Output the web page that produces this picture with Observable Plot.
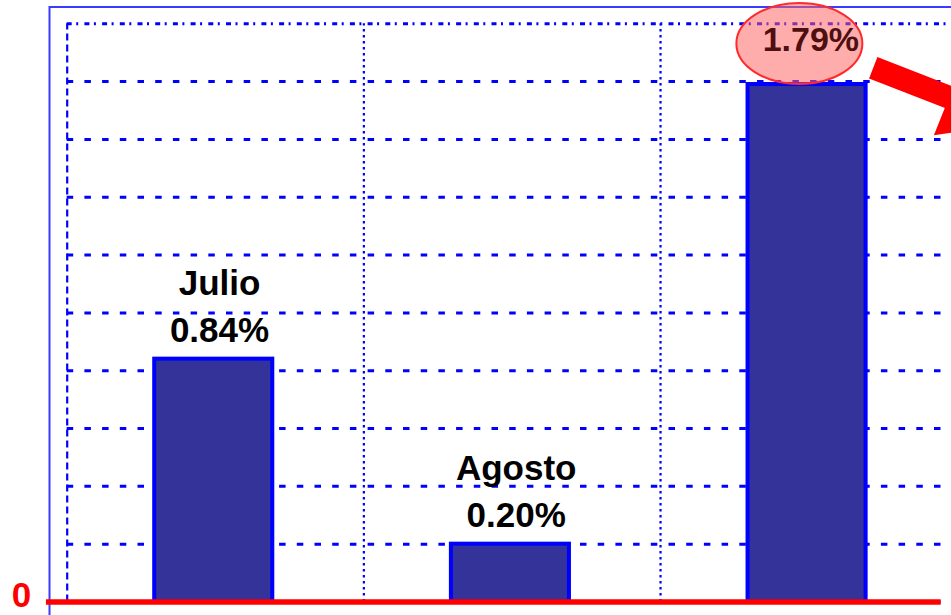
<!DOCTYPE html>
<html>
<head>
<meta charset="utf-8">
<script src="https://cdn.jsdelivr.net/npm/d3@7"></script>
<script src="https://cdn.jsdelivr.net/npm/@observablehq/plot@0.6"></script>
<style>
  html, body { margin: 0; padding: 0; background: #ffffff; overflow: hidden; }
  #chart svg { display: block; overflow: hidden; }
</style>
</head>
<body>
<div id="chart"></div>
<script>
// ---- data ----
const months = ["Julio", "Agosto", "Septiembre"];
const values = [0.84, 0.20, 1.79];
const valueLabels = ["0.84%", "0.20%", "1.79%"];
const highlightMonth = "Septiembre";
const gridTicks = [0, 0.2, 0.4, 0.6, 0.8, 1.0, 1.2, 1.4, 1.6, 1.8];
const topTick = [2.0];
const categoryBounds = [1, 2];
const zeroTick = [0];
// annotation arrow (data space: x = category index space, y = percent)
const arrowShaft = [{x1: 2.717, y1: 1.848, x2: 2.975, y2: 1.745}];
const arrowHead = [{x: 3.045, y: 1.714}];

const data = months.map((m, i) => ({month: m, i, value: values[i], label: valueLabels[i]}));
const plain = data.filter(d => d.month !== highlightMonth);
const hi = data.filter(d => d.month === highlightMonth);

const ellipse = (aspect) => ({
  draw(ctx, size) {
    const ry = Math.sqrt(size / Math.PI), rx = ry * aspect, k = 0.5523;
    ctx.moveTo(rx, 0);
    ctx.bezierCurveTo(rx, ry * k, rx * k, ry, 0, ry);
    ctx.bezierCurveTo(-rx * k, ry, -rx, ry * k, -rx, 0);
    ctx.bezierCurveTo(-rx, -ry * k, -rx * k, -ry, 0, -ry);
    ctx.bezierCurveTo(rx * k, -ry, rx, -ry * k, rx, 0);
    ctx.closePath();
  }
});

const font = "'Liberation Sans', Arial, sans-serif";

const chart = Plot.plot({
  width: 951,
  height: 615,
  marginLeft: 66.7,
  marginRight: -5.7,
  marginTop: 23.3,
  marginBottom: 13.5,
  style: {fontFamily: font, background: "#ffffff", overflow: "hidden"},
  x: {domain: [0, 3], axis: null},
  y: {domain: [0, 2], axis: null},
  marks: [
    Plot.frame({stroke: "#3b3bff", strokeWidth: 2, insetLeft: -17.7, insetTop: -16.8, insetRight: -30, insetBottom: -30}),
    Plot.ruleY(gridTicks, {stroke: "#0000ff", strokeWidth: 3, strokeDasharray: "6.5,11.2", x1: 0, x2: 3}),
    Plot.ruleY(topTick, {stroke: "#0000ff", strokeWidth: 3, strokeDasharray: "5,4.5,2,6.2", x1: 0, x2: 3}),
    Plot.ruleX(categoryBounds, {stroke: "#0000ff", strokeWidth: 2.2, strokeDasharray: "2.5,3.5", y1: 0, y2: 2}),
    Plot.ruleX([0], {stroke: "#0000ff", strokeWidth: 2.2, strokeDasharray: "7,4", y1: 0, y2: 2}),
    Plot.rectY(data, {
      x1: d => d.i + 0.295, x2: d => d.i + 0.693, y1: 0, y2: "value",
      fill: "#333399", stroke: "#0000ff", strokeWidth: 4
    }),
    Plot.ruleY(zeroTick, {x1: -0.07, x2: 2.946, stroke: "#ff0000", strokeWidth: 5.5}),
    Plot.axisY(zeroTick, {
      tickSize: 0, tickPadding: 36, fontSize: 35, fontWeight: "bold",
      color: "#ff0000", tickFormat: d => String(d), label: null, dy: -6
    }),
    Plot.text(plain, {
      x: d => d.i + 0.5, y: "value", text: d => `${d.month}\n${d.label}`,
      lineAnchor: "bottom", lineHeight: 1.35, dy: -17, dx: 4,
      fontSize: 35, fontWeight: "bold", fill: "#000000", fontFamily: font
    }),
    Plot.dot(hi, {
      x: d => d.i + 0.5, y: "value", dx: -9.5, dy: -41, r: 40.5,
      symbol: ellipse(63 / 40.5), fill: "#ff6060", fillOpacity: 0.52,
      stroke: "#ff2a2a", strokeWidth: 2
    }),
    Plot.text(hi, {
      x: d => d.i + 0.5, y: "value", text: "label", dx: 2, dy: -34,
      lineAnchor: "bottom", fontSize: 34, fontWeight: "bold",
      fill: "#4d0f0f", fontFamily: font
    }),
    Plot.link(arrowShaft, {x1: "x1", y1: "y1", x2: "x2", y2: "y2", stroke: "#ff0000", strokeWidth: 23, strokeLinecap: "butt"}),
    Plot.dot(arrowHead, {x: "x", y: "y", symbol: "triangle", r: 30, rotate: 111.8, fill: "#ff0000", stroke: "none"})
  ]
});
document.getElementById("chart").appendChild(chart);
</script>
</body>
</html>
